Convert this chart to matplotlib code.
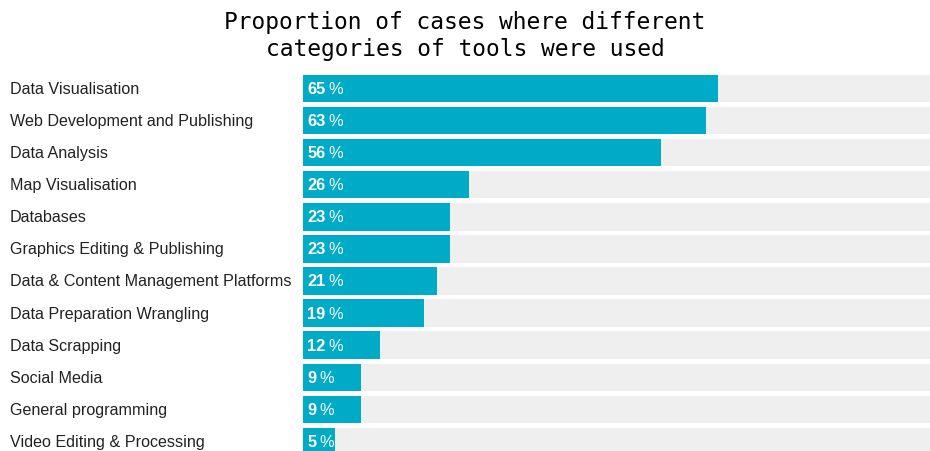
import matplotlib
matplotlib.use("Agg")
import matplotlib.pyplot as plt
import matplotlib.transforms as mtransforms

# ---------------------------------------------------------------------------
# Data
# ---------------------------------------------------------------------------
categories = [
    "Data Visualisation",
    "Web Development and Publishing",
    "Data Analysis",
    "Map Visualisation",
    "Databases",
    "Graphics Editing & Publishing",
    "Data & Content Management Platforms",
    "Data Preparation Wrangling",
    "Data Scrapping",
    "Social Media",
    "General programming",
    "Video Editing & Processing",
]
percent = [65, 63, 56, 26, 23, 23, 21, 19, 12, 9, 9, 5]
full_scale = [100] * len(categories)

TITLE = "Proportion of cases where different\ncategories of tools were used"
BAR_COLOR = "#00abc7"
BG_COLOR = "#efefef"

W, H = 930, 451
fig = plt.figure(figsize=(W / 100, H / 100), dpi=100)

# axes: bars start at x=303 px, run off the right edge
ax_left = 303 / W
ax_top_px = 60
ax = fig.add_axes([ax_left, 0, 1 - ax_left, (H - ax_top_px) / H])

pitch = 32.05
first_c = 88.7
ypos = list(range(len(categories)))
ax.barh(ypos, full_scale, height=0.85, color=BG_COLOR, zorder=1)
ax.barh(ypos, percent, height=0.85, color=BAR_COLOR, zorder=2)

ax.set_xlim(0, (W - 303) / 6.39)
ax.set_ylim((H - first_c) / pitch, (ax_top_px - first_c) / pitch)
ax.axis("off")

label_tr = mtransforms.blended_transform_factory(fig.transFigure, ax.transData)
for y, name, v in zip(ypos, categories, percent):
    ax.text(10 / W, y + 0.03, name, transform=label_tr, ha="left", va="center",
            fontsize=11.6, color="#222222", family="Liberation Sans")
    num = ax.text(0.7, y + 0.03, str(v), ha="left", va="center", fontsize=11.8,
                  color="white", fontweight="bold", family="Liberation Sans",
                  zorder=3)
    ax.annotate("%", xy=(1, 0), xycoords=num, xytext=(2, 0),
                textcoords="offset points", ha="left", va="bottom",
                fontsize=11.8, color="white", family="Liberation Sans",
                zorder=3)

fig.text(0.5, 1 - 36 / H, TITLE, ha="center", va="center", fontsize=16.5,
         family="DejaVu Sans Mono", linespacing=1.22, color="black")

fig.savefig("out.png", dpi=100, facecolor="white")
